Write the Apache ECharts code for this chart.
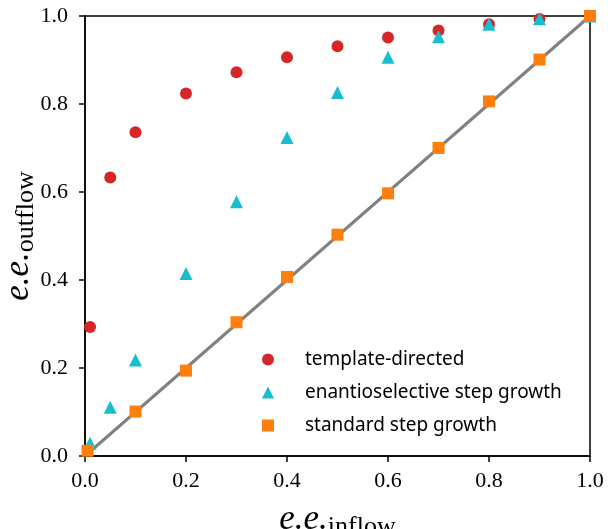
<!DOCTYPE html>
<html>
<head>
<meta charset="utf-8">
<script src="https://cdn.jsdelivr.net/npm/echarts@6/dist/echarts.min.js"></script>
<style>
  html, body { margin: 0; padding: 0; background: #fff; }
  #chart { width: 608px; height: 529px; }
</style>
</head>
<body>
<div id="chart"></div>
<script>
// e.e. values
const inflowTD = [0.01, 0.05, 0.1, 0.2, 0.3, 0.4, 0.5, 0.6, 0.7, 0.8, 0.9, 1.0];
const outflowTD = [0.293, 0.633, 0.736, 0.824, 0.872, 0.906, 0.931, 0.951, 0.967, 0.981, 0.993, 1.0];

const inflowES = [0.01, 0.05, 0.1, 0.2, 0.3, 0.4, 0.5, 0.6, 0.7, 0.8, 0.9, 1.0];
const outflowES = [0.029, 0.111, 0.218, 0.415, 0.578, 0.724, 0.826, 0.906, 0.953, 0.981, 0.994, 1.0];

const inflowSS = [0.005, 0.1, 0.2, 0.3, 0.4, 0.5, 0.6, 0.7, 0.8, 0.9, 1.0];
const outflowSS = [0.012, 0.101, 0.194, 0.304, 0.407, 0.503, 0.597, 0.700, 0.806, 0.901, 1.0];

const diagonal = [[0, 0], [1, 1]];
const seriesNames = ['template-directed', 'enantioselective step growth', 'standard step growth'];

function pairs(xs, ys) {
  return xs.map((x, i) => [x, ys[i]]);
}

const chart = echarts.init(document.getElementById('chart'));

const serif = 'Liberation Serif';
const tickLabel = {
  fontFamily: serif,
  fontSize: 22,
  color: '#000',
  formatter: v => v.toFixed(1)
};
const nameRich = {
  a: { fontFamily: serif, fontStyle: 'italic', fontSize: 35, color: '#000' },
  b: { fontFamily: serif, fontSize: 26, color: '#000', padding: [14, 0, 0, 0] }
};

const option = {
  animation: false,
  grid: {
    left: 85, right: 18, top: 16, bottom: 73,
    outerBoundsMode: 'none',
    containLabel: false,
    show: true, borderColor: '#000', borderWidth: 1.5
  },
  legend: {
    orient: 'vertical',
    left: 257,
    top: 345,
    itemWidth: 12,
    itemHeight: 12,
    itemGap: 14,
    data: [
      { name: seriesNames[0], icon: 'circle' },
      { name: seriesNames[1], icon: 'triangle' },
      { name: seriesNames[2], icon: 'rect' }
    ],
    textStyle: {
      fontFamily: 'Noto Sans',
      fontSize: 19,
      color: '#000',
      padding: [0, 0, 0, 26]
    }
  },
  xAxis: {
    type: 'value',
    min: 0, max: 1, interval: 0.2,
    splitLine: { show: false },
    axisLine: { lineStyle: { color: '#000', width: 1.5 } },
    axisTick: { length: 6, lineStyle: { color: '#000', width: 1.5 } },
    axisLabel: Object.assign({ margin: 14 }, tickLabel),
    name: '{a|e.e.}{b|inflow}',
    nameLocation: 'middle',
    nameMoveOverlap: false,
    nameGap: 44,
    nameTextStyle: { rich: nameRich }
  },
  yAxis: {
    type: 'value',
    min: 0, max: 1, interval: 0.2,
    splitLine: { show: false },
    axisLine: { lineStyle: { color: '#000', width: 1.5 } },
    axisTick: { length: 6, lineStyle: { color: '#000', width: 1.5 } },
    axisLabel: Object.assign({ margin: 17 }, tickLabel),
    name: '{a|e.e.}{b|outflow}',
    nameLocation: 'middle',
    nameMoveOverlap: false,
    nameRotate: 90,
    nameGap: 46,
    nameTextStyle: { rich: nameRich }
  },
  series: [
    {
      type: 'line',
      data: diagonal,
      symbol: 'none',
      lineStyle: { color: '#808080', width: 3 },
      silent: true,
      z: 1
    },
    {
      name: seriesNames[0],
      type: 'scatter',
      data: pairs(inflowTD, outflowTD),
      symbol: 'circle',
      symbolSize: 12,
      itemStyle: { color: '#d62728', opacity: 1 },
      z: 2
    },
    {
      name: seriesNames[1],
      type: 'scatter',
      data: pairs(inflowES, outflowES),
      symbol: 'triangle',
      symbolSize: 13,
      itemStyle: { color: '#17becf', opacity: 1 },
      z: 3
    },
    {
      name: seriesNames[2],
      type: 'scatter',
      data: pairs(inflowSS, outflowSS),
      symbol: 'rect',
      symbolSize: 12,
      itemStyle: { color: '#ff7f0e', opacity: 1 },
      z: 4
    }
  ]
};

chart.setOption(option);
</script>
</body>
</html>
